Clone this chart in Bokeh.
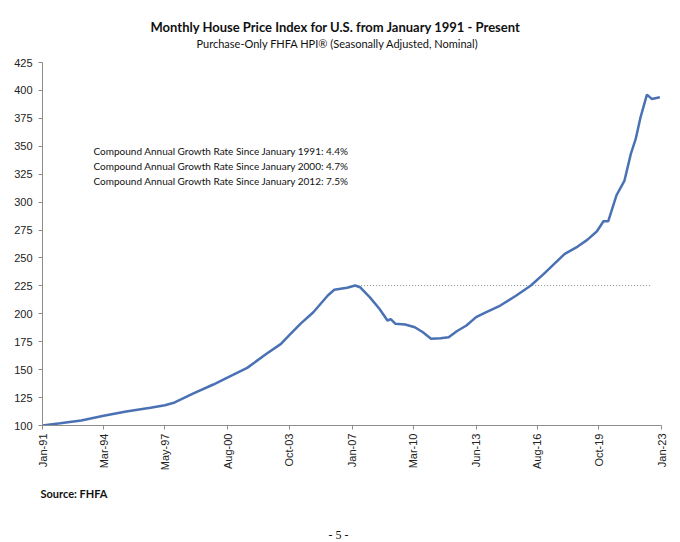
import pandas as pd
from math import pi
from bokeh.plotting import figure
from bokeh.models import Range1d, FixedTicker, DatetimeTickFormatter, Label, Title
from bokeh.embed import file_html
from bokeh.resources import INLINE

# ---- data ----
dates = ["1991-01", "1991-12", "1993-01", "1994-03", "1995-05", "1996-08", "1997-05",
         "1997-11", "1998-11", "1999-11", "2000-08", "2001-08", "2002-08", "2003-05",
         "2003-10", "2004-05", "2005-01", "2005-10", "2006-02", "2006-06", "2006-10",
         "2007-03", "2007-06", "2007-12", "2008-06", "2008-11", "2009-01", "2009-04",
         "2009-10", "2010-04", "2010-09", "2011-02", "2011-08", "2012-01", "2012-06",
         "2012-12", "2013-06", "2013-11", "2014-09", "2015-07", "2016-04", "2016-12",
         "2017-06", "2018-01", "2018-09", "2019-03", "2019-09", "2020-01", "2020-04",
         "2020-09", "2021-02", "2021-06", "2021-09", "2021-12", "2022-04", "2022-07",
         "2022-12"]
hpi = [100.0, 102.0, 104.5, 108.7, 112.5, 115.8, 118.2,
       120.6, 128.9, 136.7, 143.0, 151.6, 164.2, 173.1,
       180.6, 191.0, 201.4, 216.4, 221.5, 222.4, 223.3,
       225.3, 223.8, 214.9, 204.5, 194.0, 195.2, 191.0,
       190.4, 188.0, 183.5, 177.6, 178.2, 179.0, 184.4,
       189.5, 197.0, 200.6, 207.4, 216.4, 225.3, 235.8,
       244.1, 253.7, 260.2, 266.2, 273.9, 282.9, 282.9,
       305.9, 319.3, 343.2, 356.6, 376.0, 396.3, 392.4,
       393.9]

peak_dates = ["2007-03", "2022-06"]
peak_level = [225.3, 225.3]

x_tick_dates = ["1991-01", "1994-03", "1997-05", "2000-08", "2003-10", "2007-01",
                "2010-03", "2013-06", "2016-08", "2019-10", "2023-01"]
y_ticks = [100, 125, 150, 175, 200, 225, 250, 275, 300, 325, 350, 375, 400, 425]

title_text = "Monthly House Price Index for U.S. from January 1991 - Present"
subtitle_text = "Purchase-Only FHFA HPI\u00ae (Seasonally Adjusted, Nominal)"
cagr_lines = ["Compound Annual Growth Rate Since January 1991:  4.4%",
              "Compound Annual Growth Rate Since January 2000:  4.7%",
              "Compound Annual Growth Rate Since January 2012:  7.5%"]
source_text = "Source: FHFA"
page_text = "- 5 -"

# ---- figure ----
x = pd.to_datetime(dates)
px = pd.to_datetime(peak_dates)
xt = [pd.Timestamp(d).value / 1e6 for d in x_tick_dates]

p = figure(width=680, height=542, output_backend="svg", toolbar_location=None,
           x_axis_type="datetime",
           x_range=Range1d(pd.Timestamp("1991-01-01"), pd.Timestamp("2023-01-01")),
           y_range=Range1d(100, 425),
           min_border_left=42, min_border_right=19, min_border_top=62,
           min_border_bottom=117)
p.outline_line_color = None
p.xgrid.visible = False
p.ygrid.visible = False
p.background_fill_color = "white"
p.border_fill_color = "white"

p.line(px, peak_level, line_color="#8a8a8a", line_width=1, line_dash="1 2")
p.line(x, hpi, line_color="#4a71b3", line_width=2.5)

p.yaxis.ticker = FixedTicker(ticks=y_ticks)
p.xaxis.ticker = FixedTicker(ticks=xt)
p.xaxis.formatter = DatetimeTickFormatter(days="%b-%y", months="%b-%y", years="%b-%y")
p.xaxis.major_label_orientation = pi / 2
for ax in (p.xaxis, p.yaxis):
    ax.minor_tick_line_color = None
    ax.major_tick_in = 0
    ax.major_tick_out = 4
    ax.axis_line_color = "#8c8c8c"
    ax.major_tick_line_color = "#8c8c8c"
    ax.major_label_text_font = "Liberation Sans"
    ax.major_label_text_font_size = "11px"
    ax.major_label_text_color = "#222222"
p.yaxis.major_label_standoff = 6
p.xaxis.major_label_standoff = 4


def spacer(gap, side):
    p.add_layout(Title(text=" ", text_font_size="1px", standoff=gap), side)


# titles above (first added = nearest to the plot)
spacer(10, "above")
p.add_layout(Title(text=subtitle_text, align="left", offset=154, text_font="Lato",
                   text_font_size="11px", text_font_style="normal",
                   text_color="#111111", standoff=0), "above")
p.add_layout(Title(text=title_text, align="left", offset=108, text_font="Lato",
                   text_font_size="13px", text_font_style="bold",
                   text_color="#111111", standoff=0), "above")
# texts below the axis
p.add_layout(Title(text=source_text, align="left", offset=-2, text_font="Lato",
                   text_font_size="11px", text_font_style="bold",
                   text_color="#111111", standoff=22), "below")
spacer(12, "below")
p.add_layout(Title(text=page_text, align="left", offset=286, text_font="Liberation Serif",
                   text_font_size="12px", text_font_style="normal",
                   text_color="#111111", standoff=0), "below")

for i, t in enumerate(cagr_lines):
    p.add_layout(Label(x=51, y=275 - i * 15, x_units="screen", y_units="screen",
                       text=t, text_font="Lato", text_font_size="10px",
                       text_align="left", text_baseline="middle",
                       text_color="#111111"))

open("out.html", "w").write(file_html(p, INLINE))
